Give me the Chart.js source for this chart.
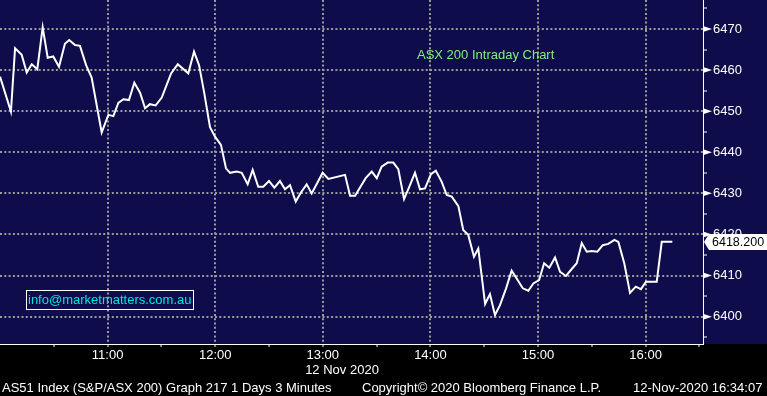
<!DOCTYPE html>
<html>
<head>
<meta charset="utf-8">
<script src="https://cdn.jsdelivr.net/npm/chart.js@4/dist/chart.umd.min.js"></script>
<style>
  html, body { margin: 0; padding: 0; background: #000; }
  canvas { display: block; }
</style>
</head>
<body>
<canvas id="grafico" width="767" height="396"></canvas>
<script>
// Minutos desde la apertura (10:00) y precio del indice
var minutos = [0,6.1,8.4,12.1,14.9,17.7,20.8,23.8,26.6,29.7,
  32.9,36.2,38.6,41.8,44.6,48.0,51.1,56.7,60.4,63.2,
  66.0,68.8,71.9,74.9,78.1,80.9,83.6,86.8,90.2,95.4,
  99.1,105.0,108.2,111.0,113.9,117.1,119.9,123.2,126.0,128.3,
  132.0,134.8,138.1,140.9,144.0,146.8,150.0,153.0,156.1,158.9,
  161.7,164.9,167.8,171.0,173.8,176.9,179.9,183.1,192.4,195.2,
  198.0,203.9,207.3,210.1,212.8,216.2,219.3,222.1,225.3,228.2,
  231.4,234.2,237.0,240.3,243.0,246.3,249.1,251.9,255.6,258.3,
  261.1,264.3,266.7,270.5,273.2,276.0,278.8,282.2,285.3,288.1,
  291.5,294.6,297.4,300.6,303.4,306.3,309.5,312.3,315.6,318.8,
  321.6,324.4,327.2,329.9,333.1,336.1,339.2,342.6,344.8,348.1,
  351.3,354.5,357.4,360.2,366.2,369.0,374.9];

var precios = [6458.4,6449.9,6465.3,6463.7,6459.4,6461.4,6460.2,6470.4,6463.0,6463.3,
  6460.8,6466.4,6467.3,6466.1,6465.9,6461.2,6458.2,6444.8,6449.1,6448.8,
  6452.0,6452.9,6452.7,6456.9,6454.5,6450.7,6451.7,6451.4,6453.3,6459.2,
  6461.4,6459.2,6464.5,6461.2,6454.4,6446.1,6443.8,6441.8,6436.1,6435.0,
  6435.3,6435.0,6432.2,6435.7,6431.6,6431.6,6433.0,6431.4,6433.0,6431.0,
  6432.0,6428.0,6430.2,6432.2,6430.0,6432.5,6435.0,6433.5,6434.5,6429.4,
  6429.4,6433.7,6435.3,6433.7,6436.5,6437.5,6437.5,6435.9,6428.6,6431.6,
  6435.0,6431.0,6431.2,6434.7,6435.5,6432.8,6429.6,6429.2,6426.9,6421.1,
  6419.9,6414.6,6416.6,6403.1,6405.5,6400.4,6402.8,6406.9,6411.2,6409.3,
  6406.9,6406.3,6408.1,6408.9,6413.0,6411.9,6414.4,6410.9,6409.9,6411.6,
  6413.0,6417.9,6415.8,6416.0,6415.8,6417.4,6417.7,6418.7,6418.2,6413.0,
  6405.8,6407.3,6406.7,6408.5,6408.5,6418.2,6418.2];

// Etiquetas del eje X (minutos desde 10:00) y del eje Y
var horasMinutos = [60, 120, 180, 240, 300, 360];
var horasEtiquetas = ['11:00', '12:00', '13:00', '14:00', '15:00', '16:00'];
var mediasHoras = [30, 90, 150, 210, 270, 330, 390];
var preciosEtiquetas = [6400, 6410, 6420, 6430, 6440, 6450, 6460, 6470];
var preciosMenores = [6395, 6405, 6415, 6425, 6435, 6445, 6455, 6465, 6475];

var ultimoPrecio = '6418.200';
var tituloGrafico = 'ASX 200 Intraday Chart';
var fechaEje = '12 Nov 2020';
var pieIzq = 'AS51 Index (S&P/ASX 200) Graph 217 1 Days 3 Minutes';
var pieCentro = 'Copyright\u00a9 2020 Bloomberg Finance L.P.';
var pieDer = '12-Nov-2020 16:34:07';
var correo = 'info@marketmatters.com.au';

var FUENTE = '"Liberation Sans", Arial, sans-serif';
var AZUL = '#0e0c4a';
var GRIS = '#9a9a9a';

var puntos = minutos.map(function(m, i) { return {x: m, y: precios[i]}; });

// Fondo: azul en la zona del grafico, negro abajo
var fondoPlugin = {
  id: 'fondo',
  beforeDraw: function(chart) {
    var ctx = chart.ctx;
    ctx.save();
    ctx.fillStyle = '#000';
    ctx.fillRect(0, 0, chart.width, chart.height);
    ctx.fillStyle = AZUL;
    ctx.fillRect(0, 0, chart.width, chart.chartArea.bottom);
    ctx.restore();
  }
};

// Textos y marcas estilo Bloomberg
var adornosPlugin = {
  id: 'adornos',
  afterDraw: function(chart) {
    var ctx = chart.ctx;
    var area = chart.chartArea;
    var ejeY = chart.scales.y;
    ctx.save();

    // Flechas en las marcas principales del eje Y
    ctx.fillStyle = '#fff';
    preciosEtiquetas.forEach(function(v) {
      var py = ejeY.getPixelForValue(v);
      ctx.beginPath();
      ctx.moveTo(area.right, py - 3);
      ctx.lineTo(area.right + 9, py);
      ctx.lineTo(area.right, py + 3);
      ctx.closePath();
      ctx.fill();
    });

    // Titulo
    ctx.font = '13px ' + FUENTE;
    ctx.fillStyle = '#7fef7f';
    ctx.textBaseline = 'middle';
    ctx.textAlign = 'left';
    ctx.fillText(tituloGrafico, 417, 55);

    // Recuadro del correo
    ctx.font = '13px ' + FUENTE;
    ctx.fillStyle = '#00e3e3';
    ctx.fillText(correo, 28, 300);
    ctx.strokeStyle = '#fff';
    ctx.lineWidth = 1;
    ctx.strokeRect(26.5, 290.5, 167, 19);

    // Etiqueta del ultimo precio
    var yUlt = Math.round(ejeY.getPixelForValue(precios[precios.length - 1]));
    ctx.fillStyle = '#fff';
    ctx.beginPath();
    ctx.moveTo(area.right + 1, yUlt);
    ctx.lineTo(area.right + 6, yUlt - 8);
    ctx.lineTo(chart.width, yUlt - 8);
    ctx.lineTo(chart.width, yUlt + 8);
    ctx.lineTo(area.right + 6, yUlt + 8);
    ctx.closePath();
    ctx.fill();
    ctx.fillStyle = '#000';
    ctx.font = '12.5px ' + FUENTE;
    ctx.fillText(ultimoPrecio, area.right + 9, yUlt + 1);

    // Fecha y pie de pagina
    ctx.font = '13px ' + FUENTE;
    ctx.fillStyle = '#fff';
    ctx.textAlign = 'center';
    ctx.fillText(fechaEje, 342, 370);
    ctx.textAlign = 'left';
    ctx.fillText(pieIzq, 2, 388);
    ctx.fillText(pieCentro, 362, 388);
    ctx.fillText(pieDer, 633, 388);
    ctx.restore();
  }
};

// Quita el relleno que Chart.js reserva para las etiquetas de los extremos
function sinRelleno(scale) {
  scale.paddingTop = 0;
  scale.paddingBottom = 0;
  scale.paddingLeft = 0;
  scale.paddingRight = 0;
}

var ctx = document.getElementById('grafico').getContext('2d');
new Chart(ctx, {
  type: 'line',
  data: {
    datasets: [{
      data: puntos,
      borderColor: '#ffffff',
      borderWidth: 2,
      pointRadius: 0,
      tension: 0,
      fill: false
    }]
  },
  options: {
    responsive: false,
    animation: false,
    layout: { padding: 0 },
    plugins: {
      legend: { display: false },
      tooltip: { enabled: false },
      title: { display: false }
    },
    scales: {
      x: {
        type: 'linear',
        min: 0,
        max: 392,
        afterBuildTicks: function(scale) {
          var todos = horasMinutos.concat(mediasHoras).sort(function(a, b) { return a - b; });
          scale.ticks = todos.map(function(v) { return {value: v}; });
        },
        afterFit: function(scale) { scale.height = 52; sinRelleno(scale); },
        ticks: {
          color: '#fff',
          font: { family: FUENTE, size: 13 },
          padding: 1,
          maxRotation: 0,
          autoSkip: false,
          callback: function(value) {
            var i = horasMinutos.indexOf(value);
            return i >= 0 ? horasEtiquetas[i] : '';
          }
        },
        grid: {
          color: function(c) {
            return horasMinutos.indexOf(c.tick && c.tick.value) >= 0 ? GRIS : 'rgba(0,0,0,0)';
          },
          lineWidth: 2,
          tickColor: '#fff',
          tickLength: 3,
          tickWidth: 1
        },
        border: { display: true, color: '#fff', width: 1, dash: [2, 2.3] }
      },
      y: {
        position: 'right',
        min: 6393.35,
        max: 6477.05,
        afterBuildTicks: function(scale) {
          var todos = preciosEtiquetas.concat(preciosMenores).sort(function(a, b) { return a - b; });
          scale.ticks = todos.map(function(v) { return {value: v}; });
        },
        afterFit: function(scale) { scale.width = 64; sinRelleno(scale); },
        ticks: {
          color: '#fff',
          font: { family: FUENTE, size: 13 },
          padding: 6,
          autoSkip: false,
          callback: function(value) {
            return preciosEtiquetas.indexOf(value) >= 0 ? String(value) : '';
          }
        },
        grid: {
          color: function(c) {
            return preciosEtiquetas.indexOf(c.tick && c.tick.value) >= 0 ? GRIS : 'rgba(0,0,0,0)';
          },
          lineWidth: 2,
          tickColor: '#fff',
          tickLength: 4,
          tickWidth: 1
        },
        border: { display: true, color: '#fff', width: 1, dash: [2, 2.3] }
      }
    }
  },
  plugins: [fondoPlugin, adornosPlugin]
});
</script>
</body>
</html>
